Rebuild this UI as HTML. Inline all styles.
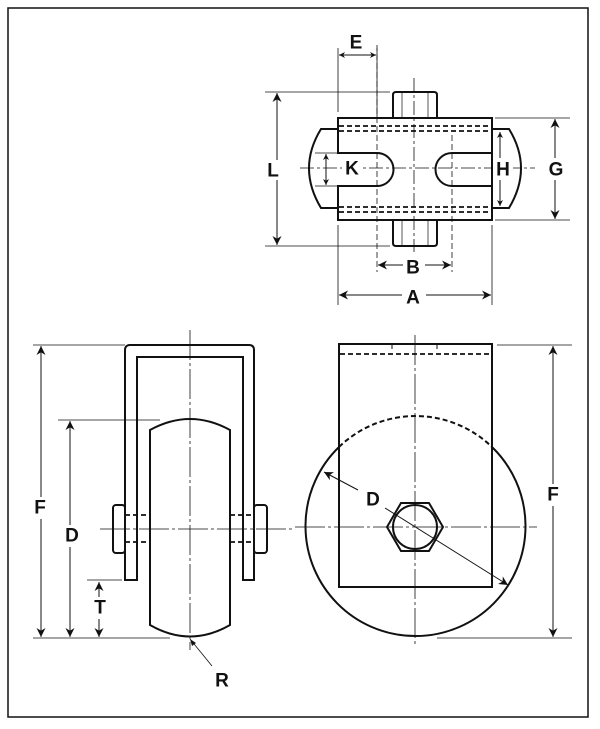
<!DOCTYPE html>
<html><head><style>
html,body{margin:0;padding:0;background:#fff;}
svg{display:block;}
text{font-family:"Liberation Sans",Arial,sans-serif;font-weight:bold;font-size:19px;fill:#111;text-anchor:middle;dominant-baseline:central;}
</style></head><body>
<svg width="600" height="729" viewBox="0 0 600 729">
<defs>
<marker id="a" viewBox="0 0 10 10" refX="10" refY="5" markerWidth="9" markerHeight="9" orient="auto-start-reverse" markerUnits="userSpaceOnUse"><path d="M0,0 L10,5 L0,10 L3,5 z" fill="#111"/></marker>
<marker id="s" viewBox="0 0 10 10" refX="10" refY="5" markerWidth="6" markerHeight="6" orient="auto-start-reverse" markerUnits="userSpaceOnUse"><path d="M0,0 L10,5 L0,10 L3,5 z" fill="#111"/></marker>
</defs>
<rect x="8" y="8" width="580" height="709" fill="none" stroke="#111" stroke-width="1.5"/>
<g fill="none" stroke="#111">
<!-- TOP VIEW -->
<path d="M338,129 L321,129 Q297,168 321,208 L338,208" stroke-width="2"/>
<path d="M492,129 L509,129 Q533,168 509,208 L492,208" stroke-width="2"/>
<path d="M393,118 L393,95 Q393,92 396,92 L434,92 Q437,92 437,95 L437,118" stroke-width="2"/>
<path d="M393,220 L393,243 Q393,246 396,246 L434,246 Q437,246 437,243 L437,220" stroke-width="2"/>
<line x1="402" y1="92" x2="402" y2="118" stroke-width="0.7"/><line x1="428" y1="92" x2="428" y2="118" stroke-width="0.7"/>
<line x1="402" y1="220" x2="402" y2="246" stroke-width="0.7"/><line x1="428" y1="220" x2="428" y2="246" stroke-width="0.7"/>
<path d="M338,118 L492,118 L492,220 L338,220 L338,186 L377,186 A16.5,16.5 0 0 0 377,153 L338,153 Z" fill="#fff" stroke-width="2"/>
<path d="M492,153 L452,153 A16.5,16.5 0 0 0 452,186 L492,186" stroke-width="2"/>
<rect x="336" y="154" width="3" height="31" fill="#fff" stroke="none"/>
<line x1="338" y1="153" x2="338" y2="118" stroke-width="2"/>
<g stroke-dasharray="5,3" stroke-width="1.8">
<line x1="339" y1="126" x2="491" y2="126"/><line x1="339" y1="131" x2="491" y2="131"/>
<line x1="339" y1="207" x2="491" y2="207"/><line x1="339" y1="212" x2="491" y2="212"/>
</g>
<g stroke-width="0.8">
<line x1="414" y1="78" x2="414" y2="252" stroke-dasharray="14,3,3,3"/>
<line x1="300" y1="168" x2="535" y2="168" stroke-dasharray="14,3,3,3"/>
<line x1="377" y1="45" x2="377" y2="272" stroke-dasharray="6,3"/>
<line x1="452" y1="135" x2="452" y2="272" stroke-dasharray="6,3"/>
<line x1="338" y1="48" x2="338" y2="112"/>
<line x1="377" y1="48" x2="377" y2="118"/>
<line x1="265" y1="92" x2="390" y2="92"/><line x1="265" y1="246" x2="390" y2="246"/>
<line x1="315" y1="153" x2="338" y2="153"/><line x1="315" y1="186" x2="338" y2="186"/>
<line x1="495" y1="118" x2="570" y2="118"/><line x1="495" y1="220" x2="570" y2="220"/>
<line x1="338" y1="225" x2="338" y2="305"/><line x1="492" y1="225" x2="492" y2="305"/>
</g>
<g stroke-width="1">
<line x1="339" y1="55" x2="376" y2="55" marker-start="url(#s)" marker-end="url(#s)"/>
<line x1="277" y1="93" x2="277" y2="245" marker-start="url(#a)" marker-end="url(#a)"/>
<line x1="326" y1="154" x2="326" y2="185" marker-start="url(#s)" marker-end="url(#s)"/>
<line x1="500" y1="132" x2="500" y2="206" marker-start="url(#s)" marker-end="url(#s)"/>
<line x1="555" y1="119" x2="555" y2="219" marker-start="url(#a)" marker-end="url(#a)"/>
<line x1="378" y1="265" x2="451" y2="265" marker-start="url(#a)" marker-end="url(#a)"/>
<line x1="339" y1="295" x2="491" y2="295" marker-start="url(#a)" marker-end="url(#a)"/>
</g>
<!-- SIDE VIEW -->
<path d="M125,580 L125,350 Q125,345 130,345 L249,345 Q254,345 254,350 L254,580 L243,580 L243,357 L137,357 L137,580 Z" fill="#fff" stroke-width="2"/>
<path d="M150,430 Q190,408 230,430 L230,625 Q190,648 150,625 Z" fill="#fff" stroke-width="2"/>
<rect x="113" y="505" width="12" height="48" rx="3" fill="#fff" stroke-width="2"/>
<rect x="254" y="505" width="13" height="48" rx="3" fill="#fff" stroke-width="2"/>
<g stroke-dasharray="5,3" stroke-width="1.8">
<line x1="125" y1="515" x2="150" y2="515"/><line x1="125" y1="542" x2="150" y2="542"/>
<line x1="230" y1="515" x2="254" y2="515"/><line x1="230" y1="542" x2="254" y2="542"/>
</g>
<line x1="137" y1="515" x2="137" y2="542" stroke-width="2"/><line x1="243" y1="515" x2="243" y2="542" stroke-width="2"/>
<g stroke-width="0.8">
<line x1="190" y1="330" x2="190" y2="650" stroke-dasharray="30,3,3,3"/>
<line x1="100" y1="529" x2="292" y2="529" stroke-dasharray="30,3,3,3"/>
<line x1="33" y1="345" x2="125" y2="345"/>
<line x1="58" y1="420" x2="160" y2="420"/>
<line x1="87" y1="580" x2="122" y2="580"/>
<line x1="33" y1="638" x2="170" y2="638"/>
<line x1="190" y1="639" x2="212" y2="666"/>
</g>
<g stroke-width="1">
<line x1="41" y1="346" x2="41" y2="637" marker-start="url(#a)" marker-end="url(#a)"/>
<line x1="70" y1="421" x2="70" y2="637" marker-start="url(#a)" marker-end="url(#a)"/>
<line x1="99" y1="582" x2="99" y2="637" marker-start="url(#a)" marker-end="url(#a)"/>
</g>
<path d="M190,639 L192,646 L196,643 Z" fill="#111" stroke="none"/>
<!-- FRONT VIEW -->
<path d="M339,447 A110,110 0 1 0 492,447" stroke-width="2"/>
<path d="M339,447 A110,110 0 0 1 492,447" stroke-width="2" stroke-dasharray="5,3"/>
<rect x="339" y="344" width="153" height="243" stroke-width="2"/>
<line x1="340" y1="354" x2="491" y2="354" stroke-width="1.8" stroke-dasharray="5,3"/>
<line x1="392" y1="344" x2="392" y2="349" stroke-width="1"/><line x1="437" y1="344" x2="437" y2="349" stroke-width="1"/>
<polygon points="387,527 401,503 429,503 443,527 429,551 401,551" fill="#fff" stroke-width="2"/>
<circle cx="415" cy="527" r="22" stroke-width="2"/>
<g stroke-width="0.8">
<line x1="295" y1="527" x2="537" y2="527" stroke-dasharray="30,3,3,3"/>
<line x1="415" y1="335" x2="415" y2="645" stroke-dasharray="30,3,3,3"/>
<line x1="497" y1="345" x2="572" y2="345"/>
<line x1="437" y1="638" x2="572" y2="638"/>
</g>
<line x1="358" y1="490" x2="324" y2="472" stroke-width="1" marker-end="url(#a)"/>
<line x1="385" y1="508" x2="508" y2="585" stroke-width="1" marker-end="url(#a)"/>
<line x1="553" y1="346" x2="553" y2="637" stroke-width="1" marker-start="url(#a)" marker-end="url(#a)"/>
</g>
<g>
<rect x="262" y="160" width="22" height="20" fill="#fff"/><text x="273" y="171">L</text>
<text x="356" y="43">E</text>
<rect x="342" y="158" width="20" height="20" fill="#fff"/><text x="352" y="169">K</text>
<rect x="493" y="158" width="20" height="22" fill="#fff"/><text x="503" y="170">H</text>
<rect x="544" y="158" width="24" height="22" fill="#fff"/><text x="556" y="170">G</text>
<rect x="403" y="256" width="22" height="22" fill="#fff"/><text x="413" y="268">B</text>
<rect x="402" y="286" width="24" height="22" fill="#fff"/><text x="413" y="298">A</text>
<rect x="30" y="497" width="20" height="22" fill="#fff"/><text x="40" y="508">F</text>
<rect x="60" y="525" width="22" height="22" fill="#fff"/><text x="72" y="536">D</text>
<rect x="90" y="597" width="20" height="22" fill="#fff"/><text x="100" y="608">T</text>
<text x="222" y="681">R</text>
<rect x="362" y="489" width="22" height="22" fill="#fff"/><text x="373" y="500">D</text>
<rect x="543" y="484" width="20" height="22" fill="#fff"/><text x="553" y="495">F</text>
</g>
</svg>
</body></html>
